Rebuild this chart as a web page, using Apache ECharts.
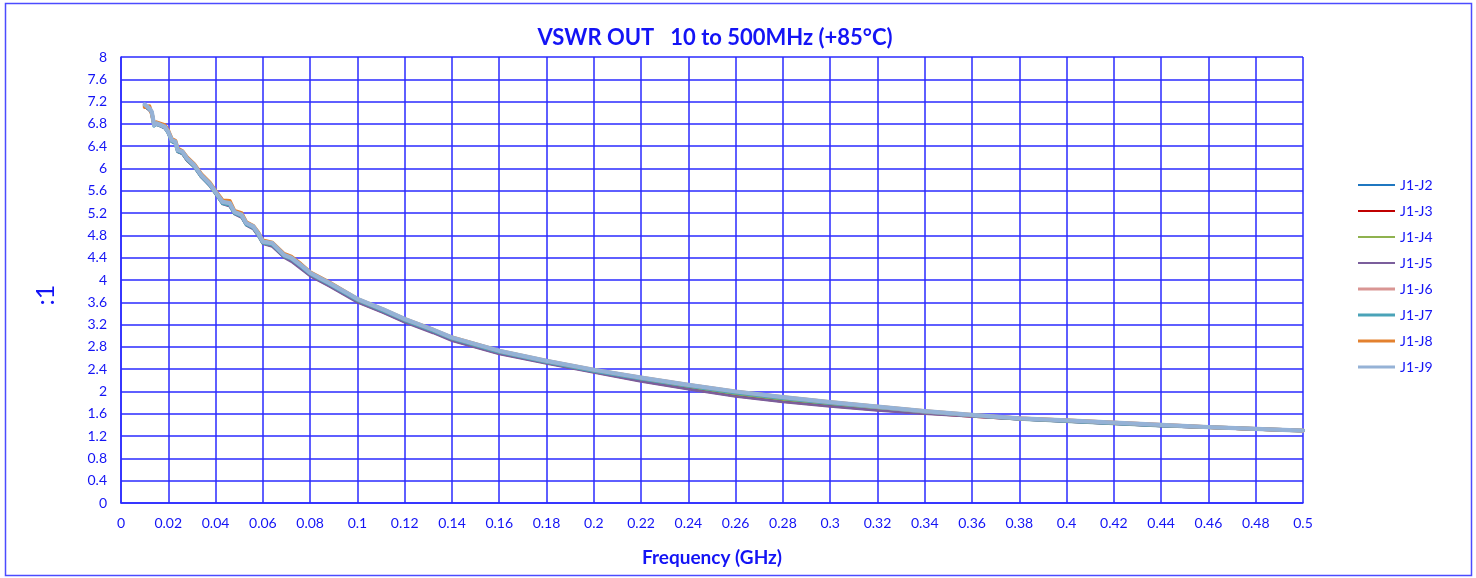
<!DOCTYPE html>
<html>
<head>
<meta charset="utf-8">
<script src="https://cdn.jsdelivr.net/npm/echarts@6/dist/echarts.min.js"></script>
<style>
  html, body { margin: 0; padding: 0; background: #ffffff; }
  #chart { width: 1476px; height: 578px; }
</style>
</head>
<body>
<div id="chart"></div>
<script>
// Frequency points (GHz)
const freq = [0.010,0.012,0.013,0.014,0.015,0.0185,0.020,0.0215,0.023,0.024,0.026,0.028,0.031,0.034,0.0375,0.040,0.043,0.046,0.048,0.051,0.053,0.056,0.058,0.060,0.064,0.069,0.072,0.076,0.080,0.088,0.100,0.111,0.120,0.132,0.140,0.160,0.180,0.200,0.220,0.240,0.260,0.280,0.300,0.320,0.340,0.360,0.380,0.400,0.420,0.440,0.460,0.480,0.500];

const seriesNames = ['J1-J2','J1-J3','J1-J4','J1-J5','J1-J6','J1-J7','J1-J8','J1-J9'];

const vswrJ2 = [7.13,7.07,7.01,6.76,6.79,6.74,6.65,6.50,6.46,6.32,6.28,6.16,6.04,5.86,5.71,5.56,5.38,5.35,5.20,5.15,5.00,4.93,4.81,4.67,4.63,4.43,4.37,4.24,4.10,3.92,3.63,3.44,3.27,3.08,2.94,2.70,2.52,2.36,2.22,2.09,1.96,1.86,1.78,1.70,1.63,1.57,1.51,1.47,1.43,1.39,1.36,1.33,1.30];
const vswrJ3 = [7.11,7.05,6.99,6.77,6.79,6.73,6.63,6.48,6.45,6.30,6.27,6.14,6.03,5.85,5.70,5.55,5.37,5.33,5.19,5.13,4.99,4.92,4.80,4.66,4.61,4.41,4.35,4.22,4.08,3.90,3.61,3.42,3.25,3.06,2.92,2.68,2.51,2.35,2.19,2.05,1.92,1.82,1.74,1.67,1.61,1.55,1.50,1.46,1.42,1.38,1.35,1.32,1.29];
const vswrJ4 = [7.12,7.06,7.00,6.77,6.80,6.73,6.64,6.49,6.45,6.31,6.27,6.15,6.03,5.85,5.70,5.55,5.37,5.34,5.19,5.14,4.99,4.93,4.81,4.66,4.62,4.42,4.36,4.23,4.09,3.91,3.62,3.43,3.26,3.07,2.93,2.69,2.52,2.36,2.21,2.08,1.95,1.85,1.77,1.69,1.62,1.56,1.51,1.47,1.43,1.39,1.35,1.32,1.30];
const vswrJ5 = [7.11,7.05,6.99,6.78,6.79,6.72,6.63,6.48,6.44,6.30,6.26,6.14,6.02,5.84,5.69,5.54,5.36,5.32,5.18,5.12,4.98,4.91,4.79,4.65,4.60,4.40,4.33,4.20,4.07,3.89,3.60,3.41,3.24,3.05,2.91,2.67,2.50,2.34,2.18,2.04,1.91,1.81,1.73,1.66,1.60,1.55,1.50,1.46,1.42,1.38,1.35,1.32,1.29];
const vswrJ6 = [7.12,7.07,7.00,6.79,6.80,6.75,6.65,6.50,6.47,6.32,6.29,6.17,6.05,5.87,5.72,5.57,5.39,5.36,5.21,5.16,5.01,4.95,4.83,4.68,4.65,4.44,4.39,4.26,4.12,3.94,3.65,3.46,3.29,3.10,2.96,2.72,2.54,2.38,2.24,2.11,1.99,1.89,1.80,1.72,1.64,1.57,1.52,1.48,1.44,1.40,1.36,1.33,1.30];
const vswrJ7 = [7.13,7.06,7.01,6.77,6.80,6.74,6.64,6.49,6.46,6.31,6.28,6.16,6.04,5.86,5.71,5.56,5.38,5.35,5.20,5.15,5.00,4.94,4.82,4.67,4.64,4.43,4.38,4.25,4.11,3.93,3.64,3.45,3.28,3.09,2.95,2.71,2.53,2.37,2.23,2.10,1.98,1.88,1.79,1.72,1.64,1.57,1.51,1.47,1.43,1.39,1.36,1.33,1.30];
const vswrJ8 = [7.10,7.12,6.98,6.80,6.83,6.78,6.68,6.53,6.50,6.36,6.31,6.20,6.08,5.90,5.75,5.60,5.43,5.42,5.24,5.20,5.04,4.97,4.86,4.71,4.67,4.47,4.42,4.29,4.14,3.96,3.66,3.47,3.30,3.11,2.97,2.73,2.55,2.39,2.25,2.12,2.00,1.90,1.81,1.73,1.65,1.58,1.52,1.48,1.44,1.40,1.36,1.33,1.30];
const vswrJ9 = [7.15,7.08,7.02,6.78,6.81,6.75,6.66,6.51,6.48,6.33,6.30,6.18,6.06,5.88,5.73,5.58,5.40,5.38,5.22,5.17,5.02,4.96,4.84,4.69,4.66,4.45,4.40,4.27,4.13,3.95,3.66,3.47,3.30,3.11,2.97,2.73,2.55,2.39,2.25,2.12,2.00,1.90,1.81,1.73,1.65,1.58,1.52,1.48,1.44,1.40,1.36,1.33,1.30];

const seriesValues = [vswrJ2, vswrJ3, vswrJ4, vswrJ5, vswrJ6, vswrJ7, vswrJ8, vswrJ9];
const seriesColors = ['#1f77c0','#c00000','#8fb24f','#7b5e9c','#d99694','#4aa3b8','#e3812f','#95b2d6'];
const seriesWidths = [2.5, 2.5, 2.5, 2.5, 3.75, 3.75, 3.75, 4.25];

const blue = '#1414f5';
const gridBlue = '#2a2aff';
const font = 'Lato, "Open Sans", sans-serif';

const chart = echarts.init(document.getElementById('chart'), null, { renderer: 'canvas' });

const series = seriesNames.map((name, i) => ({
  name: name,
  type: 'line',
  symbol: 'none',
  smooth: false,
  animation: false,
  data: freq.map((f, k) => [f, seriesValues[i][k]]),
  lineStyle: { color: seriesColors[i], width: seriesWidths[i], cap: 'round', join: 'round' },
  itemStyle: { color: seriesColors[i] },
  z: 2 + i
}));

const legendData = seriesNames.map((name, i) => ({
  name: name,
  icon: i < 4 ? 'path://M0,0 H37 V2 H0 Z' : 'path://M0,0 H37 V3 H0 Z',
  itemStyle: { color: seriesColors[i] }
}));

const option = {
  backgroundColor: '#ffffff',
  animation: false,
  title: {
    text: 'VSWR OUT   10 to 500MHz (+85°C)',
    left: 710,
    textAlign: 'center',
    top: 22,
    textStyle: { color: blue, fontFamily: font, fontWeight: 'bold', fontSize: 22 }
  },
  legend: {
    orient: 'vertical',
    left: 1353,
    top: 173,
    itemWidth: 37,
    itemHeight: 14,
    itemGap: 12,
    data: legendData,
    textStyle: { color: blue, fontFamily: font, fontSize: 14 }
  },
  grid: { left: 121, right: 173, top: 57, bottom: 75, containLabel: false },
  xAxis: {
    type: 'value',
    min: 0,
    max: 0.5,
    interval: 0.02,
    name: 'Frequency (GHz)',
    nameLocation: 'middle',
    nameGap: 45,
    nameTextStyle: { color: blue, fontFamily: font, fontWeight: 'bold', fontSize: 19 },
    axisLine: { show: true, lineStyle: { color: gridBlue, width: 1.5 } },
    axisTick: { show: false },
    axisLabel: { color: blue, fontFamily: font, fontSize: 14, margin: 13,
      formatter: v => String(Math.round(v * 100) / 100) },
    splitLine: { show: true, lineStyle: { color: gridBlue, width: 1.5 } }
  },
  yAxis: {
    type: 'value',
    min: 0,
    max: 8,
    interval: 0.4,
    axisLine: { show: true, lineStyle: { color: gridBlue, width: 1.5 } },
    axisTick: { show: false },
    axisLabel: { color: blue, fontFamily: font, fontSize: 14, margin: 14,
      formatter: v => String(Math.round(v * 10) / 10) },
    splitLine: { show: true, lineStyle: { color: gridBlue, width: 1.5 } }
  },
  graphic: [
    {
      type: 'rect',
      shape: { x: 5.5, y: 3.5, width: 1466, height: 572 },
      style: { fill: 'none', stroke: '#4b4bff', lineWidth: 1.5 },
      silent: true
    },
    {
      type: 'text',
      x: 46,
      y: 295,
      rotation: Math.PI / 2,
      style: { text: ':1', fill: blue, font: '25px ' + font, align: 'center', verticalAlign: 'middle' },
      silent: true
    }
  ],
  series: series
};

chart.setOption(option);
</script>
</body>
</html>
